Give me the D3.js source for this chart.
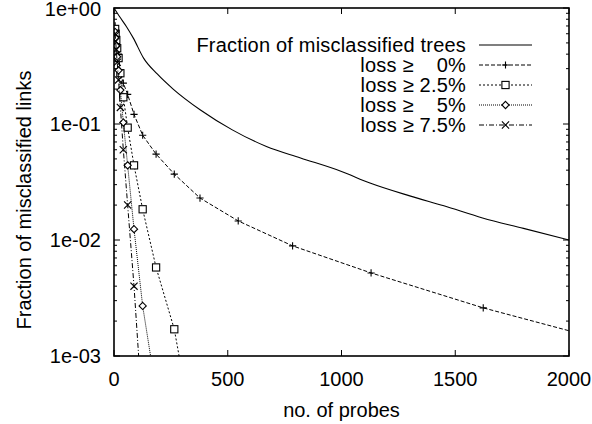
<!DOCTYPE html>
<html>
<head>
<meta charset="utf-8">
<script src="https://cdn.jsdelivr.net/npm/d3@7"></script>
<style>
  body { margin: 0; background: #fff; }
  text { font-family: "Liberation Sans", Arial, Helvetica, sans-serif; fill: #000; }
</style>
</head>
<body>
<div id="chart"></div>
<script>
// probe counts where the loss series were sampled (last one lies past the axis)
var markerProbes = [5, 7, 10, 14, 20, 28, 41, 60, 88, 126, 185, 265, 378, 546, 785, 1130, 1623, 2337];

// fraction of misclassified links, per loss threshold
var loss0  = [0.70, 0.64, 0.57, 0.48, 0.40, 0.28, 0.225, 0.180, 0.121, 0.080, 0.055, 0.037, 0.023, 0.0146, 0.0089, 0.0052, 0.0026, 0.0011];
var loss25 = [0.66, 0.60, 0.53, 0.45, 0.37, 0.274, 0.170, 0.093, 0.044, 0.0184, 0.0058, 0.0017, 0.0001];
var loss5  = [0.62, 0.55, 0.47, 0.38, 0.29, 0.196, 0.103, 0.044, 0.0124, 0.0027, 0.0005];
var loss75 = [0.60, 0.52, 0.44, 0.34, 0.24, 0.139, 0.060, 0.020, 0.0040, 0.0003];

// fraction of misclassified trees (no markers)
var treeProbes = [0, 25, 55, 85, 130, 190, 260, 380, 520, 670, 820, 1000, 1125, 1300, 1450, 1620, 1800, 2000];
var treeFrac   = [1.0, 0.84, 0.69, 0.55, 0.37, 0.27, 0.20, 0.132, 0.089, 0.064, 0.051, 0.039, 0.031, 0.024, 0.0197, 0.0155, 0.0126, 0.0100];

var xTicks = [0, 500, 1000, 1500, 2000];
var yTicks = [1, 0.1, 0.01, 0.001];
var yTickLabels = ["1e+00", "1e-01", "1e-02", "1e-03"];

var legendLabels = ["Fraction of misclassified trees", "loss \u2265    0%", "loss \u2265 2.5%", "loss \u2265    5%", "loss \u2265 7.5%"];

function draw() {
	var W = 592, H = 424;
	var pl = 114, pr = 569, pt = 8, pb = 356;

	var svg = d3.select("#chart").append("svg")
	            .attr("width", W)
	            .attr("height", H);

	var x = d3.scaleLinear().domain([0, 2000]).range([pl, pr]);
	var y = d3.scaleLog().domain([0.001, 1]).range([pb, pt]);

	svg.append("clipPath").attr("id", "plotclip")
	   .append("rect")
	   .attr("x", pl).attr("y", pt)
	   .attr("width", pr - pl).attr("height", pb - pt);

	// ticks, gnuplot style: inward, mirrored on all four sides
	var minorY = [];
	[0.001, 0.01, 0.1].forEach(function(d) {
		for (var k = 2; k <= 9; k++) minorY.push(d * k);
	});

	var tickG = svg.append("g").attr("stroke", "#000").attr("stroke-width", 1);
	xTicks.forEach(function(t) {
		tickG.append("line").attr("x1", x(t)).attr("x2", x(t)).attr("y1", pb).attr("y2", pb - 6);
		tickG.append("line").attr("x1", x(t)).attr("x2", x(t)).attr("y1", pt).attr("y2", pt + 6);
	});
	yTicks.forEach(function(t) {
		tickG.append("line").attr("x1", pl).attr("x2", pl + 6).attr("y1", y(t)).attr("y2", y(t));
		tickG.append("line").attr("x1", pr).attr("x2", pr - 6).attr("y1", y(t)).attr("y2", y(t));
	});
	minorY.forEach(function(t) {
		tickG.append("line").attr("x1", pl).attr("x2", pl + 3).attr("y1", y(t)).attr("y2", y(t));
		tickG.append("line").attr("x1", pr).attr("x2", pr - 3).attr("y1", y(t)).attr("y2", y(t));
	});

	// tick labels
	svg.append("g").selectAll("text").data(xTicks).enter().append("text")
	   .attr("x", function(d) { return x(d); })
	   .attr("y", 386)
	   .attr("text-anchor", "middle")
	   .attr("font-size", 20)
	   .text(function(d) { return d; });

	svg.append("g").selectAll("text").data(yTicks).enter().append("text")
	   .attr("x", 101)
	   .attr("y", function(d) { return y(d) + 7; })
	   .attr("dy", function(d) { return d == 1 ? 1 : 0; })
	   .attr("text-anchor", "end")
	   .attr("font-size", 20)
	   .text(function(d, i) { return yTickLabels[i]; });

	// axis titles
	svg.append("text")
	   .attr("x", (pl + pr) / 2)
	   .attr("y", 417)
	   .attr("text-anchor", "middle")
	   .attr("font-size", 20)
	   .text("no. of probes");

	svg.append("text")
	   .attr("transform", "translate(31,200) rotate(-90)")
	   .attr("text-anchor", "middle")
	   .attr("font-size", 20)
	   .text("Fraction of misclassified links");

	// series
	var series = [
		{ vals: loss0,  dash: "4,2",     mark: "plus" },
		{ vals: loss25, dash: "2,2",     mark: "box" },
		{ vals: loss5,  dash: "1,1",     mark: "diamond" },
		{ vals: loss75, dash: "5,2,1,2", mark: "cross" }
	];

	var line = d3.line()
	             .x(function(d) { return x(d[0]); })
	             .y(function(d) { return y(d[1]); });

	var plot = svg.append("g").attr("clip-path", "url(#plotclip)");

	plot.append("path")
	    .datum(treeProbes.map(function(p, i) { return [p, treeFrac[i]]; }))
	    .attr("d", line.curve(d3.curveMonotoneX))
	    .attr("fill", "none")
	    .attr("stroke", "#000")
	    .attr("stroke-width", 1.1);
	line.curve(d3.curveLinear);

	function drawMark(g, kind, cx, cy) {
		var s = 3.6;
		if (kind == "plus") {
			g.append("path").attr("d", "M" + (cx - s) + "," + cy + "H" + (cx + s) + "M" + cx + "," + (cy - s) + "V" + (cy + s));
		} else if (kind == "box") {
			g.append("rect").attr("x", cx - s).attr("y", cy - s).attr("width", 2 * s).attr("height", 2 * s).attr("fill", "#fff");
		} else if (kind == "diamond") {
			g.append("path").attr("fill", "#fff")
			 .attr("d", "M" + cx + "," + (cy - s) + "L" + (cx + s) + "," + cy + "L" + cx + "," + (cy + s) + "L" + (cx - s) + "," + cy + "Z");
		} else {
			g.append("path").attr("d", "M" + (cx - s) + "," + (cy - s) + "L" + (cx + s) + "," + (cy + s) + "M" + (cx - s) + "," + (cy + s) + "L" + (cx + s) + "," + (cy - s));
		}
	}

	series.forEach(function(s) {
		var pts = s.vals.map(function(v, i) { return [markerProbes[i], v]; });
		plot.append("path")
		    .datum(pts)
		    .attr("d", line)
		    .attr("fill", "none")
		    .attr("stroke", "#000")
		    .attr("stroke-width", 1)
		    .attr("stroke-dasharray", s.dash);
		var mg = plot.append("g").attr("stroke", "#000").attr("stroke-width", 1.1).attr("fill", "none");
		pts.forEach(function(p) {
			if (p[0] <= 2000 && p[1] >= 0.001) drawMark(mg, s.mark, x(p[0]), y(p[1]));
		});
	});

	// legend
	var legX = 466, legY0 = 45, legStep = 20;
	var legStyles = [{ dash: null, mark: null }].concat(series);
	legendLabels.forEach(function(lbl, i) {
		var ly = legY0 + i * legStep;
		svg.append("text")
		   .attr("x", legX)
		   .attr("y", ly + 7)
		   .attr("text-anchor", "end")
		   .attr("font-size", 20)
		   .attr("letter-spacing", 0.2)
		   .style("white-space", "pre")
		   .text(lbl);
		svg.append("line")
		   .attr("x1", 479).attr("x2", 532)
		   .attr("y1", ly).attr("y2", ly)
		   .attr("stroke", "#000")
		   .attr("stroke-width", i == 0 ? 1.1 : 1)
		   .attr("stroke-dasharray", legStyles[i].dash);
		if (legStyles[i].mark) {
			var g = svg.append("g").attr("stroke", "#000").attr("stroke-width", 1.1).attr("fill", "none");
			drawMark(g, legStyles[i].mark, 505.5, ly);
		}
	});

	// frame
	svg.append("rect")
	   .attr("x", pl).attr("y", pt)
	   .attr("width", pr - pl).attr("height", pb - pt)
	   .attr("fill", "none")
	   .attr("stroke", "#000")
	   .attr("stroke-width", 1.6);
}

draw();
</script>
</body>
</html>
